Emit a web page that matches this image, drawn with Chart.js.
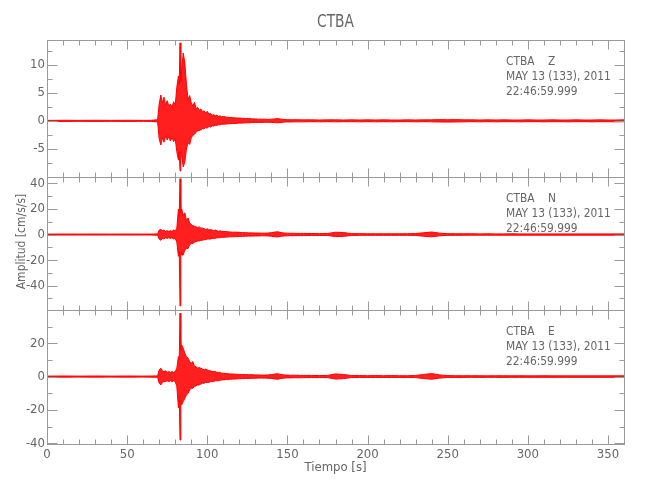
<!DOCTYPE html>
<html>
<head>
<meta charset="utf-8">
<script src="https://cdn.jsdelivr.net/npm/chart.js@4.4.0/dist/chart.umd.min.js"></script>
<style>
  html, body { margin: 0; padding: 0; background: #fff; }
  #wrap { width: 650px; height: 500px; }
</style>
</head>
<body>
<div id="wrap"><canvas id="sismo" width="650" height="500"></canvas></div>
<script>
// tiempo (s) de cada punto de la envolvente
const tiempo = [0, 10, 20, 30, 40, 50, 60, 65,
  69, 70, 71, 72, 73, 74, 75, 76, 77, 78, 79, 80, 81, 82, 82.5, 83, 83.5, 84, 85, 86, 87, 88, 89,
  90, 91, 92, 93, 94, 95, 96, 97, 98, 99, 100, 101, 102, 103, 104, 105, 106, 107, 108, 109, 110,
  112, 114, 116, 118, 120, 122, 124, 126, 128, 130, 132, 134, 136, 138, 140, 142, 144, 146, 148, 150,
  152, 154, 156, 158, 160,
  165, 170, 175, 180, 185, 190, 195, 200, 205, 210, 215, 220, 225, 230, 235, 240, 245, 250, 255, 260,
  265, 270, 275, 280, 285, 290, 295, 300, 305, 310, 315, 320, 325, 330, 335, 340, 345, 350, 355, 360];

// componente Z: envolvente superior / inferior (cm/s/s)
const zSup = [0.08, 0.1, 0.08, 0.1, 0.08, 0.1, 0.08, 0.1,
  0.2, 3.0, 4.6, 3.2, 4.2, 2.8, 3.6, 2.6, 3.0, 2.4, 3.4, 2.8, 6.0, 8.0, 6.5, 13.9, 7.0, 9.0, 12.1, 10.3, 6.5, 3.8, 4.5,
  3.2, 2.6, 3.3, 2.2, 2.4, 1.9, 2.1, 1.6, 1.8, 1.4, 1.7, 1.2, 1.3, 1.0, 1.1, 0.9, 1.0, 0.8, 0.9, 0.7, 0.8,
  0.65, 0.6, 0.55, 0.5, 0.5, 0.45, 0.4, 0.4, 0.35, 0.35, 0.3, 0.3, 0.3, 0.25, 0.3, 0.35, 0.4, 0.3, 0.25, 0.2,
  0.2, 0.2, 0.2, 0.18, 0.18,
  0.18, 0.15, 0.18, 0.18, 0.15, 0.18, 0.15, 0.18, 0.15, 0.18, 0.15, 0.15, 0.18, 0.15, 0.18, 0.18, 0.22, 0.2, 0.22, 0.18,
  0.18, 0.15, 0.18, 0.15, 0.18, 0.15, 0.15, 0.18, 0.15, 0.15, 0.18, 0.15, 0.15, 0.18, 0.15, 0.15, 0.18, 0.15, 0.15, 0.18];
const zInf = [-0.08, -0.1, -0.08, -0.1, -0.08, -0.1, -0.08, -0.1,
  -0.2, -3.2, -4.3, -3.0, -3.8, -2.6, -3.4, -2.8, -3.6, -2.9, -3.7, -3.2, -5.5, -7.0, -5.5, -8.9, -5.5, -6.0, -8.2, -7.3, -5.0, -3.9, -4.2,
  -3.0, -2.6, -2.4, -2.0, -1.8, -1.7, -1.6, -1.4, -1.4, -1.2, -1.3, -1.0, -1.1, -0.9, -0.9, -0.8, -0.8, -0.7, -0.7, -0.6, -0.6,
  -0.55, -0.5, -0.45, -0.45, -0.4, -0.4, -0.35, -0.35, -0.3, -0.3, -0.28, -0.28, -0.25, -0.25, -0.28, -0.32, -0.35, -0.28, -0.22, -0.2,
  -0.2, -0.18, -0.18, -0.18, -0.18,
  -0.15, -0.18, -0.15, -0.18, -0.15, -0.15, -0.18, -0.15, -0.18, -0.15, -0.18, -0.15, -0.15, -0.18, -0.15, -0.18, -0.2, -0.22, -0.2, -0.18,
  -0.15, -0.18, -0.15, -0.18, -0.15, -0.15, -0.18, -0.15, -0.15, -0.18, -0.15, -0.15, -0.18, -0.15, -0.15, -0.18, -0.15, -0.15, -0.18, -0.15];

// componente N
const nSup = [0.35, 0.4, 0.35, 0.4, 0.35, 0.4, 0.35, 0.4,
  0.5, 3.5, 4.0, 3.0, 3.5, 2.5, 3.0, 2.5, 3.0, 2.5, 3.5, 3.0, 5.0, 20, 14, 43.7, 17, 20, 15, 17, 11, 13, 9,
  8, 7, 6.5, 6, 5.5, 6, 5, 5, 4.5, 4, 4.5, 3.5, 4, 3.5, 3, 3.5, 3, 2.5, 3, 2.5, 2.5,
  2.3, 2.0, 1.8, 1.9, 1.7, 1.5, 1.5, 1.3, 1.3, 1.2, 1.2, 1.1, 1.1, 1.2, 1.5, 1.9, 2.2, 1.5, 1.2, 1.1,
  1.0, 1.0, 0.9, 0.9, 0.9,
  0.8, 0.7, 0.8, 1.8, 1.6, 0.7, 0.7, 0.6, 0.6, 0.6, 0.6, 0.6, 0.6, 0.8, 1.4, 2.0, 1.1, 0.7, 0.6, 0.6,
  0.6, 0.5, 0.6, 0.5, 0.5, 0.6, 0.5, 0.5, 0.5, 0.5, 0.5, 0.5, 0.5, 0.5, 0.5, 0.5, 0.5, 0.5, 0.5, 0.5];
const nInf = [-0.35, -0.4, -0.35, -0.4, -0.35, -0.4, -0.35, -0.4,
  -0.5, -3.5, -4.5, -3.0, -3.5, -2.5, -3.0, -2.5, -3.0, -2.5, -3.5, -3.0, -6, -17, -13, -55.8, -14, -16, -16, -12, -11, -11, -8,
  -7, -7, -6, -5.5, -5, -5, -4.5, -4.5, -4, -4, -3.5, -3.5, -3.5, -3, -3, -3, -2.5, -2.5, -2.5, -2.2, -2.2,
  -2.0, -1.8, -1.7, -1.6, -1.5, -1.4, -1.3, -1.2, -1.2, -1.1, -1.1, -1.0, -1.0, -1.1, -1.3, -1.7, -1.9, -1.3, -1.1, -1.0,
  -0.9, -0.9, -0.8, -0.8, -0.8,
  -0.7, -0.7, -0.7, -1.6, -1.4, -0.7, -0.6, -0.6, -0.6, -0.6, -0.6, -0.6, -0.6, -0.7, -1.3, -1.8, -1.0, -0.6, -0.6, -0.6,
  -0.5, -0.5, -0.5, -0.5, -0.5, -0.5, -0.5, -0.5, -0.5, -0.5, -0.5, -0.5, -0.5, -0.5, -0.5, -0.5, -0.5, -0.5, -0.5, -0.5];

// componente E
const eSup = [0.3, 0.35, 0.3, 0.35, 0.3, 0.35, 0.3, 0.35,
  0.4, 4, 5, 3.5, 3, 3.5, 2.5, 3, 2.5, 3, 2.5, 3, 5, 12, 10, 38, 16, 19, 17, 14, 12, 11, 9,
  8, 9, 6, 6, 5, 5.5, 5, 4.5, 4, 4.5, 4, 3.5, 3.5, 3, 3, 3, 2.5, 2.5, 2.5, 2, 2,
  1.8, 1.6, 1.5, 1.4, 1.3, 1.2, 1.2, 1.1, 1.1, 1.0, 1.0, 0.9, 0.9, 1.0, 1.2, 1.5, 1.7, 1.2, 1.0, 0.9,
  0.8, 0.8, 0.8, 0.7, 0.7,
  0.7, 0.6, 0.7, 1.6, 1.3, 0.6, 0.6, 0.5, 0.6, 0.5, 0.6, 0.5, 0.5, 0.7, 1.3, 1.8, 1.0, 0.6, 0.5, 0.5,
  0.5, 0.5, 0.45, 0.5, 0.5, 0.45, 0.5, 0.45, 0.45, 0.5, 0.45, 0.45, 0.45, 0.45, 0.45, 0.45, 0.45, 0.45, 0.45, 0.45];
const eInf = [-0.3, -0.35, -0.3, -0.35, -0.3, -0.35, -0.3, -0.35,
  -0.4, -4, -5, -3.5, -3, -3, -2.5, -3, -2.5, -3, -2.5, -3, -6, -18.7, -12, -38, -14, -17, -15, -13, -11, -10, -8,
  -7, -7, -6, -5.5, -5, -5, -4.5, -4, -4, -3.5, -3.5, -3.5, -3, -3, -3, -2.5, -2.5, -2.5, -2.2, -2, -2,
  -1.7, -1.6, -1.5, -1.4, -1.3, -1.2, -1.1, -1.1, -1.0, -1.0, -0.9, -0.9, -0.9, -1.0, -1.1, -1.4, -1.6, -1.1, -0.9, -0.8,
  -0.8, -0.7, -0.7, -0.7, -0.65,
  -0.6, -0.6, -0.6, -1.5, -1.2, -0.6, -0.5, -0.5, -0.5, -0.5, -0.5, -0.5, -0.5, -0.6, -1.2, -1.6, -0.9, -0.5, -0.5, -0.5,
  -0.45, -0.5, -0.45, -0.45, -0.5, -0.45, -0.45, -0.45, -0.45, -0.45, -0.45, -0.45, -0.45, -0.45, -0.45, -0.45, -0.45, -0.45, -0.45, -0.45];

// etiquetas de los ejes
const marcasZ = [-5, 0, 5, 10];
const marcasN = [-40, -20, 0, 20, 40];
const marcasE = [-40, -20, 0, 20];
const marcasX = [0, 50, 100, 150, 200, 250, 300, 350];

const estacion = 'CTBA';
const fecha = 'MAY 13 (133), 2011';
const hora = '22:46:59.999';

const ROJO = 'rgb(255,0,0)';
const ROJO_RELLENO = 'rgba(255,0,0,0.88)';
const GRIS_EJE = '#9a9a9a';
const GRIS_TXT = '#666';
const FAMILIA = '"DejaVu Sans Condensed", "DejaVu Sans", sans-serif';

const paneles = [
  { id: 'yZ', comp: 'Z', sup: zSup, inf: zInf, min: -10, max: 14.4, marcas: marcasZ, paso: 2.5, mayor: 5, peso: 137 },
  { id: 'yN', comp: 'N', sup: nSup, inf: nInf, min: -59, max: 45, marcas: marcasN, paso: 10, mayor: 20, peso: 133 },
  { id: 'yE', comp: 'E', sup: eSup, inf: eInf, min: -40.4, max: 39.9, marcas: marcasE, paso: 10, mayor: 20, peso: 134 }
];

const datasets = [];
paneles.forEach(p => {
  datasets.push({
    label: p.comp + ' sup', yAxisID: p.id,
    data: tiempo.map((t, i) => ({ x: t, y: p.sup[i] })),
    borderColor: ROJO, borderWidth: 1, pointRadius: 0, fill: false
  });
  datasets.push({
    label: p.comp + ' inf', yAxisID: p.id,
    data: tiempo.map((t, i) => ({ x: t, y: p.inf[i] })),
    borderColor: ROJO, borderWidth: 1, pointRadius: 0,
    backgroundColor: ROJO_RELLENO, fill: '-1'
  });
});

const escalas = {
  x: {
    type: 'linear', min: 0, max: 360,
    afterBuildTicks: s => { s.ticks = marcasX.map(v => ({ value: v })); },
    afterFit: s => { s.height = 56; },
    grid: { display: false, drawTicks: false },
    border: { display: false },
    ticks: { color: GRIS_TXT, font: { family: FAMILIA, size: 13 }, padding: 3, maxRotation: 0 },
    title: { display: true, text: 'Tiempo [s]', color: GRIS_TXT, font: { family: FAMILIA, size: 13 }, padding: { top: 0, bottom: 25 } }
  }
};
// los ejes apilados a la izquierda se colocan de abajo arriba
paneles.slice().reverse().forEach(p => {
  escalas[p.id] = {
    type: 'linear', position: 'left', stack: 'trazas', stackWeight: p.peso,
    min: p.min, max: p.max,
    afterBuildTicks: s => { s.ticks = p.marcas.map(v => ({ value: v })); },
    afterFit: s => { s.width = 47; },
    grid: { display: false, drawTicks: false },
    border: { display: false },
    ticks: { color: GRIS_TXT, font: { family: FAMILIA, size: 13 }, padding: 2 }
  };
});

function textoEstrecho(ctx, txt, x, y, escala) {
  ctx.save();
  ctx.translate(x, y);
  ctx.scale(escala, 1);
  ctx.fillText(txt, 0, 0);
  ctx.restore();
}

// marcas hacia dentro, marcos de cada panel y textos
const marcasInternas = {
  id: 'marcasInternas',
  afterDraw(chart) {
    const ctx = chart.ctx, area = chart.chartArea, sx = chart.scales.x;
    ctx.save();
    ctx.strokeStyle = GRIS_EJE;
    ctx.lineWidth = 1;
    paneles.forEach(p => {
      const s = chart.scales[p.id];
      const top = Math.round(s.top) + 0.5, bot = Math.round(s.bottom) + 0.5;
      const izq = Math.round(area.left) + 0.5, der = Math.round(area.right) + 0.5;
      ctx.strokeRect(izq, top, der - izq, bot - top);
      ctx.beginPath();
      for (let v = Math.ceil(p.min / p.paso) * p.paso; v <= p.max + 1e-9; v += p.paso) {
        const y = Math.round(s.getPixelForValue(v)) + 0.5;
        const r = v / p.mayor;
        const largo = Math.abs(r - Math.round(r)) < 1e-6 ? 10 : 5;
        ctx.moveTo(izq, y); ctx.lineTo(izq + largo, y);
        ctx.moveTo(der, y); ctx.lineTo(der - largo, y);
      }
      for (let v = 10; v < 360; v += 10) {
        const x = Math.round(sx.getPixelForValue(v)) + 0.5;
        const largo = v % 50 === 0 ? 9 : 5;
        ctx.moveTo(x, top); ctx.lineTo(x, top + largo);
        ctx.moveTo(x, bot); ctx.lineTo(x, bot - largo);
      }
      ctx.stroke();

      ctx.fillStyle = GRIS_TXT;
      ctx.font = '13px ' + FAMILIA;
      ctx.textAlign = 'left';
      ctx.textBaseline = 'middle';
      const tx = area.left + 459;
      textoEstrecho(ctx, estacion + '    ' + p.comp, tx, s.top + 22, 0.91);
      textoEstrecho(ctx, fecha, tx, s.top + 37, 0.91);
      textoEstrecho(ctx, hora, tx, s.top + 52, 0.91);
    });

    ctx.fillStyle = GRIS_TXT;
    ctx.textAlign = 'center';
    ctx.textBaseline = 'middle';
    ctx.font = '18px ' + FAMILIA;
    textoEstrecho(ctx, estacion, (area.left + area.right) / 2, 22, 0.85);

    const sN = chart.scales.yN;
    ctx.font = '12px ' + FAMILIA;
    ctx.translate(22, (sN.top + sN.bottom) / 2 - 2);
    ctx.rotate(-Math.PI / 2);
    ctx.fillText('Amplitud [cm/s/s]', 0, 0);
    ctx.restore();
  }
};

new Chart(document.getElementById('sismo'), {
  type: 'line',
  data: { datasets },
  options: {
    responsive: false,
    animation: false,
    devicePixelRatio: 1,
    layout: { padding: { top: 40, right: 26, left: 0, bottom: 0 } },
    plugins: { legend: { display: false }, tooltip: { enabled: false }, title: { display: false } },
    elements: { line: { tension: 0 } },
    scales: escalas
  },
  plugins: [marcasInternas]
});
</script>
</body>
</html>
